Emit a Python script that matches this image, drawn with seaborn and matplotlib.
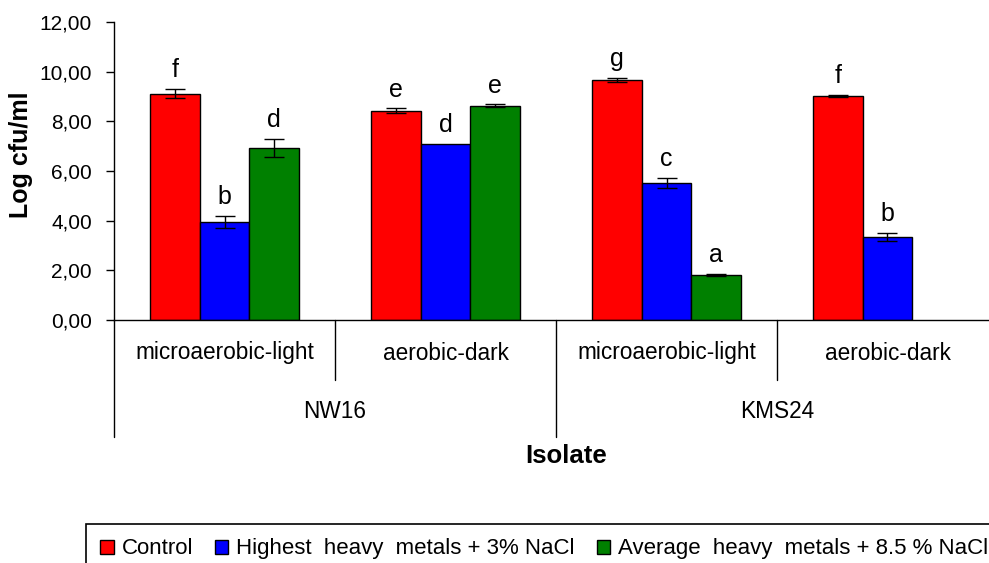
import numpy as np
import pandas as pd
import seaborn as sns
import matplotlib
matplotlib.use("Agg")
import matplotlib.pyplot as plt
from matplotlib.patches import Patch
from matplotlib.container import BarContainer

# ---------------- data ----------------
isolates = ["NW16", "NW16", "KMS24", "KMS24"]
conditions = ["microaerobic-light", "aerobic-dark", "microaerobic-light", "aerobic-dark"]
series_names = ["Control", "Highest  heavy  metals + 3% NaCl", "Average  heavy  metals + 8.5 % NaCl"]
series_colors = ["#FF0000", "#0000FF", "#008000"]

control = [9.12, 8.42, 9.66, 9.04]
control_err = [0.20, 0.10, 0.09, 0.04]
control_letters = ["f", "e", "g", "f"]

highest = [3.94, 7.08, 5.51, 3.34]
highest_err = [0.25, 0.0, 0.20, 0.17]
highest_letters = ["b", "d", "c", "b"]

average = [6.93, 8.63, 1.83, np.nan]
average_err = [0.37, 0.05, 0.04, np.nan]
average_letters = ["d", "e", "a", ""]

yticks = [0, 2, 4, 6, 8, 10, 12]
ytick_labels = ["0,00", "2,00", "4,00", "6,00", "8,00", "10,00", "12,00"]
y_label = "Log cfu/ml"
x_label = "Isolate"

# ---------------- build table ----------------
cat_keys = [f"{i} {c}" for i, c in zip(isolates, conditions)]
values = [control, highest, average]
errors = [control_err, highest_err, average_err]
letters = [control_letters, highest_letters, average_letters]
rows = []
for s, vals in zip(series_names, values):
    for k, v in zip(cat_keys, vals):
        if not np.isnan(v):
            rows.append({"cat": k, "series": s, "value": v})
df = pd.DataFrame(rows)

# ---------------- figure ----------------
sns.set_theme(style="white")
plt.rcParams["font.family"] = ["Liberation Sans", "DejaVu Sans"]
plt.rcParams.update({"text.color": "black", "axes.labelcolor": "black",
                     "xtick.color": "black", "ytick.color": "black",
                     "axes.edgecolor": "black"})

W, H = 989, 563
fig = plt.figure(figsize=(W / 100, H / 100), dpi=100)
ax_left, ax_right, ax_top, ax_bot = 114, 998, 22, 320
ax = fig.add_axes([ax_left / W, 1 - ax_bot / H, (ax_right - ax_left) / W, (ax_bot - ax_top) / H])

sns.barplot(data=df, x="cat", y="value", hue="series", order=cat_keys,
            hue_order=series_names, palette=dict(zip(series_names, series_colors)),
            width=0.67, gap=0, edgecolor="black", linewidth=1.0,
            errorbar=None, legend=False, saturation=1, ax=ax)

# error bars and significance letters
bar_containers = [c for c in ax.containers if isinstance(c, BarContainer)]
for h, cont in enumerate(bar_containers):
    for bar in list(cont.patches):
        cx = bar.get_x() + bar.get_width() / 2
        ci = int(round(cx))
        top = bar.get_height()
        err = errors[h][ci]
        if err > 0:
            ax.errorbar(cx, top, yerr=err, fmt="none", ecolor="black",
                        elinewidth=1.0, capsize=7.5, capthick=1.0, zorder=5)
        ax.annotate(letters[h][ci], xy=(cx, top + err), xytext=(0, 8.5),
                    textcoords="offset points", ha="center", va="baseline",
                    fontsize=18, color="black")

ax.set_xlim(-0.5, 3.5)
ax.set_ylim(0, 12)
ax.set_yticks(yticks)
ax.set_yticklabels(ytick_labels)
ax.tick_params(axis="y", direction="out", length=6, width=1, pad=10,
               labelsize=15, left=True, color="black", labelcolor="black")
ax.tick_params(axis="x", length=0, labelbottom=False)
ax.set_xlabel("")
ax.set_ylabel(y_label, fontsize=18, fontweight="bold", color="black")
ax.yaxis.set_label_coords((33 - ax_left) / (ax_right - ax_left), (ax_bot - 155) / (ax_bot - ax_top))

for s in ["top", "right"]:
    ax.spines[s].set_visible(False)
for s in ["left", "bottom"]:
    ax.spines[s].set_color("black")
    ax.spines[s].set_linewidth(1.0)
ax.grid(False)

# hierarchical category axis
axh = ax_bot - ax_top
tr = ax.get_xaxis_transform()
long_len = (437 - ax_bot) / axh
short_len = (380 - ax_bot) / axh
for xb in [-0.5, 0.5, 1.5, 2.5, 3.5]:
    ln = long_len if xb in (-0.5, 1.5, 3.5) else short_len
    ax.plot([xb, xb], [0, -ln], transform=tr, color="black", lw=1.0, clip_on=False)

for i, c in enumerate(conditions):
    ax.annotate(c, xy=(i, 0), xycoords=tr, xytext=(0, -(353 - ax_bot)),
                textcoords="offset pixels", ha="center", va="center", fontsize=16.3,
                color="black")
groups = []
for i, iso in enumerate(isolates):
    if not groups or groups[-1][0] != iso:
        groups.append([iso, [i]])
    else:
        groups[-1][1].append(i)
for iso, idxs in groups:
    ax.annotate(iso, xy=(np.mean(idxs), 0), xycoords=tr, xytext=(0, -(412 - ax_bot)),
                textcoords="offset pixels", ha="center", va="center", fontsize=16.3,
                color="black")

fig.text(566 / W, 1 - 456 / H, x_label, ha="center", va="center",
         fontsize=18.5, fontweight="bold", color="black")

# legend
handles = [Patch(facecolor=c, edgecolor="black", linewidth=1.0) for c in series_colors]
leg = fig.legend(handles, series_names, loc="upper left",
                 bbox_to_anchor=(86 / W, 1 - 524 / H), ncol=3, fontsize=16,
                 frameon=True, fancybox=False, framealpha=1, edgecolor="black",
                 handlelength=0.59, handleheight=0.59, handletextpad=0.36,
                 columnspacing=1.0, borderpad=0.65, borderaxespad=0)
leg.get_frame().set_linewidth(1.2)
for t in leg.get_texts():
    t.set_color("black")

fig.savefig("out.png", dpi=100)
